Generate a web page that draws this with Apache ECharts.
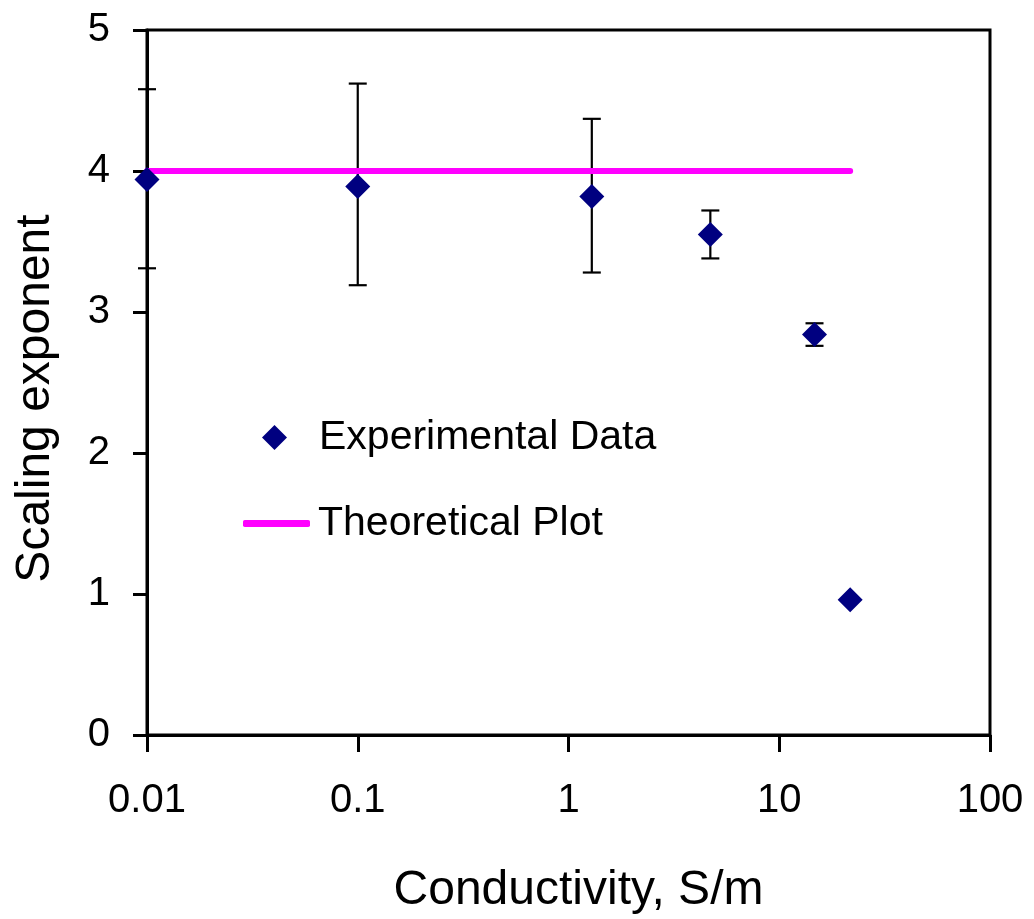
<!DOCTYPE html>
<html>
<head>
<meta charset="utf-8">
<script src="https://cdn.jsdelivr.net/npm/echarts@6/dist/echarts.min.js"></script>
<style>
  html, body { margin: 0; padding: 0; background: #fff; }
  #chart { width: 1034px; height: 919px; }
</style>
</head>
<body>
<div id="chart"></div>
<script>
// conductivity (S/m) and measured scaling exponent
var conductivity = [0.01, 0.1, 1.29, 4.71, 14.7, 21.7];
var exponent = [3.94, 3.89, 3.82, 3.55, 2.84, 0.96];
var errLow = [3.31, 3.19, 3.28, 3.38, 2.76, 0.96];
var errHigh = [4.58, 4.62, 4.37, 3.72, 2.92, 0.96];

// theoretical plot
var theoryX = [0.01, 21.7];
var theoryY = [4, 4];

var xTickLabels = ['0.01', '0.1', '1', '10', '100'];
var yTickLabels = ['0', '1', '2', '3', '4', '5'];

var FONT = 'Liberation Sans';

var chart = echarts.init(document.getElementById('chart'), null, { renderer: 'canvas' });

var expData = conductivity.map(function (x, i) { return [x, exponent[i]]; });
var errData = conductivity.map(function (x, i) { return [x, errLow[i], errHigh[i]]; });
var theoryData = theoryX.map(function (x, i) { return [x, theoryY[i]]; });

var legendText = { fontFamily: FONT, fontSize: 41, color: '#000', lineHeight: 41 };

var option = {
  animation: false,
  backgroundColor: '#fff',
  grid: {
    left: 147, right: 44, top: 30, bottom: 184,
    containLabel: false,
    outerBoundsMode: 'none',
    show: true,
    borderColor: '#000',
    borderWidth: 3
  },
  legend: [
    {
      orient: 'vertical',
      left: 262,
      top: 417,
      padding: 0,
      itemWidth: 25,
      itemHeight: 25,
      data: [{ name: 'Experimental Data', icon: 'diamond' }],
      textStyle: Object.assign({ padding: [0, 0, 0, 27] }, legendText)
    },
    {
      orient: 'vertical',
      left: 243,
      top: 503,
      padding: 0,
      itemWidth: 67,
      itemHeight: 7,
      data: [{ name: 'Theoretical Plot', icon: 'roundRect' }],
      textStyle: Object.assign({ padding: [0, 0, 0, 3] }, legendText)
    }
  ],
  xAxis: {
    type: 'log',
    logBase: 10,
    min: 0.01,
    max: 100,
    name: 'Conductivity, S/m',
    nameLocation: 'middle',
    nameGap: 132,
    nameTextStyle: { fontFamily: FONT, fontSize: 48, color: '#000', padding: [0, 0, 0, 20] },
    axisLine: { lineStyle: { color: '#000', width: 3 } },
    axisTick: { inside: false, length: 17, lineStyle: { color: '#000', width: 3 } },
    minorTick: { show: false },
    splitLine: { show: false },
    axisLabel: {
      margin: 46,
      fontFamily: FONT,
      fontSize: 40,
      color: '#000',
      formatter: function (v) {
        var k = Math.round(Math.log10(v)) + 2;
        return xTickLabels[k];
      }
    }
  },
  yAxis: {
    type: 'value',
    min: 0,
    max: 5,
    interval: 1,
    name: 'Scaling exponent',
    nameLocation: 'middle',
    nameGap: 87,
    nameTextStyle: { fontFamily: FONT, fontSize: 48, color: '#000', padding: [0, 32, 0, 0] },
    axisLine: { lineStyle: { color: '#000', width: 3 } },
    axisTick: { inside: false, length: 14, lineStyle: { color: '#000', width: 3 } },
    splitLine: { show: false },
    axisLabel: {
      margin: 37,
      fontFamily: FONT,
      fontSize: 40,
      color: '#000',
      formatter: function (v) { return yTickLabels[Math.round(v)]; }
    }
  },
  series: [
    {
      name: 'errors',
      type: 'custom',
      z: 1,
      silent: true,
      data: errData,
      renderItem: function (params, api) {
        var x = api.value(0);
        var lo = api.coord([x, api.value(1)]);
        var hi = api.coord([x, api.value(2)]);
        var hw = 9;
        var style = { stroke: '#000', lineWidth: 2.2 };
        return {
          type: 'group',
          children: [
            { type: 'line', shape: { x1: hi[0], y1: hi[1], x2: lo[0], y2: lo[1] }, style: style },
            { type: 'line', shape: { x1: hi[0] - hw, y1: hi[1], x2: hi[0] + hw, y2: hi[1] }, style: style },
            { type: 'line', shape: { x1: lo[0] - hw, y1: lo[1], x2: lo[0] + hw, y2: lo[1] }, style: style }
          ]
        };
      }
    },
    {
      name: 'Theoretical Plot',
      type: 'line',
      z: 2,
      data: theoryData,
      symbol: 'none',
      lineStyle: { color: '#ff00ff', width: 6, cap: 'round' },
      itemStyle: { color: '#ff00ff' }
    },
    {
      name: 'Experimental Data',
      type: 'scatter',
      z: 3,
      data: expData,
      symbol: 'diamond',
      symbolSize: 25,
      itemStyle: { color: '#000080', opacity: 1 }
    }
  ]
};

chart.setOption(option);
window.addEventListener('resize', chart.resize);
</script>
</body>
</html>
